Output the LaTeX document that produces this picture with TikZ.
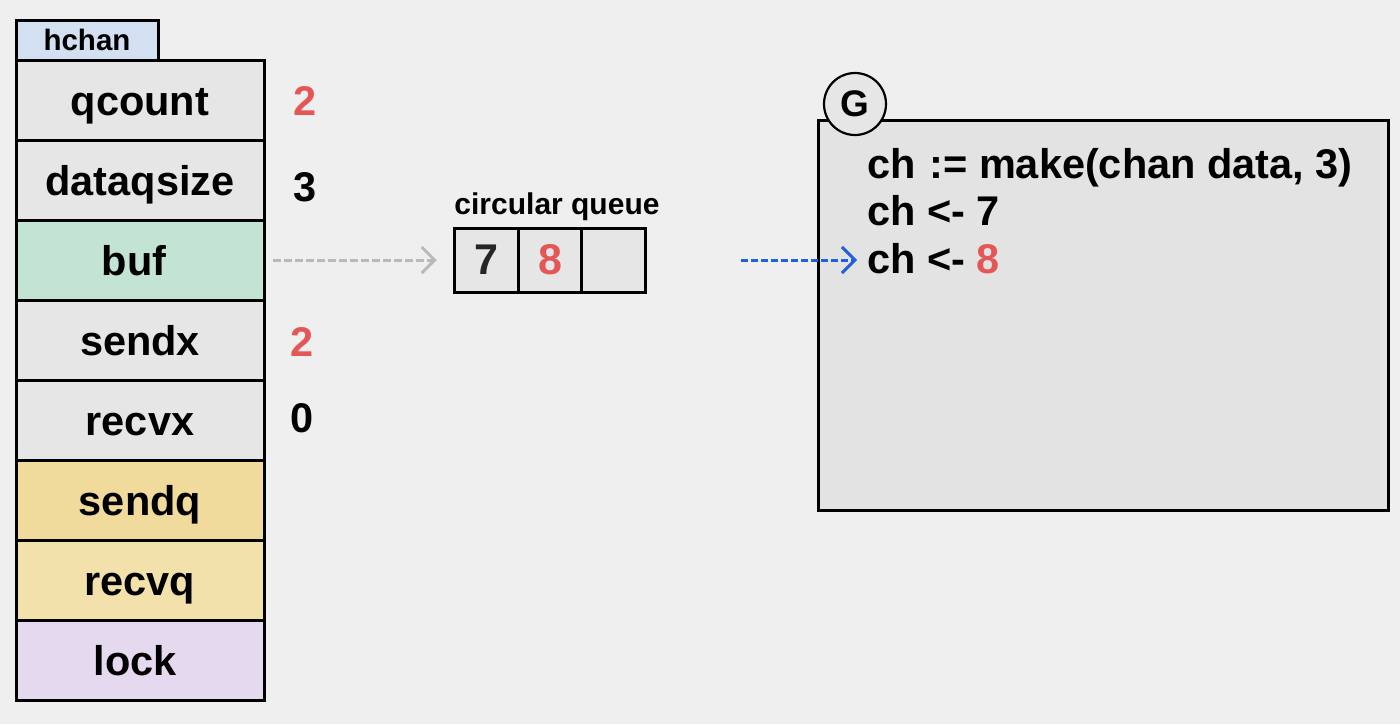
\documentclass[tikz,border=0pt]{standalone}
\usepackage{fontspec}
\setmainfont{Liberation Sans}
\usetikzlibrary{arrows.meta}
\definecolor{bg}{HTML}{EFEFEF}
\definecolor{cellgray}{HTML}{E6E6E6}
\definecolor{tabblue}{HTML}{D3E0F1}
\definecolor{bufgreen}{HTML}{C3E4D3}
\definecolor{qyellow}{HTML}{F0DA9C}
\definecolor{ryellow}{HTML}{F2E1AB}
\definecolor{lockpurple}{HTML}{E4D9EE}
\definecolor{valred}{HTML}{E45756}
\definecolor{arrgray}{HTML}{B9B9B9}
\definecolor{arrblue}{HTML}{1F5FE0}
\definecolor{gbox}{HTML}{E3E3E3}
\tikzset{
  field/.style={draw=black, line width=3pt, minimum width=248pt, minimum height=80pt, inner sep=0pt, outer sep=0pt, text height=30pt, text depth=0pt, font=\fontsize{41.5}{48}\selectfont\bfseries, text=black},
  val/.style={font=\fontsize{41.5}{48}\selectfont\bfseries, inner sep=0pt},
  qcell/.style={draw=black, line width=3pt, minimum width=63.5pt, minimum height=64pt, inner sep=0pt, outer sep=0pt, fill=cellgray, font=\fontsize{43}{50}\selectfont\bfseries},
  codeline/.style={anchor=base west, inner sep=0pt, font=\fontsize{41.5}{48}\selectfont\bfseries},
  barb/.style={-{Straight Barb[length=13pt,width=26pt,line width=3pt]}}
}
\begin{document}
\begin{tikzpicture}[x=1pt,y=-1pt]
\fill[bg] (0,0) rectangle (1400,724);
\useasboundingbox (0,0) rectangle (1400,724);
% tab
\node[draw=black, line width=3pt, fill=tabblue, minimum width=142pt, minimum height=40pt, inner sep=0pt, outer sep=0pt, font=\fontsize{29.5}{34}\selectfont\bfseries] (tab) at (87,40) {hchan};
% fields
\node[field, fill=cellgray] (qcount) at (140,100) {qcount};
\node[field, fill=cellgray] (dataqsize) at (140,180) {dataqsize};
\node[field, fill=bufgreen] (buf) at (140,260) {buf\hspace*{12pt}};
\node[field, fill=cellgray] (sendx) at (140,340) {sendx};
\node[field, fill=cellgray] (recvx) at (140,420) {recvx};
\node[field, fill=qyellow] (sendq) at (140,500) {sendq};
\node[field, fill=ryellow] (recvq) at (140,580) {recvq};
\node[field, fill=lockpurple] (lock) at (140,660) {lock\hspace*{10pt}};
% values
\node[val, text=valred] (v1) at (305,101) {2};
\node[val] (v2) at (305,187) {3};
\node[val, text=valred] (v3) at (302,342) {2};
\node[val] (v4) at (302,418) {0};
% circular queue
\node[font=\fontsize{30}{34}\selectfont\bfseries, inner sep=0pt] (cqlabel) at (557,207) {circular queue};
\node[qcell, text=black!85] (c1) at (486.5,260) {7};
\node[qcell, text=valred] (c2) at (550,260) {8};
\node[qcell] (c3) at (613.5,260) {};
\coordinate (bufout) at (273,260);
\draw[arrgray, line width=3pt, dash pattern=on 8pt off 3pt, barb] (bufout) -- ([xshift=-18pt]c1.west);
% goroutine box
\node[draw=black, line width=3pt, fill=gbox, minimum width=570pt, minimum height=390pt, inner sep=0pt, outer sep=0pt] (gbox) at (1103,315) {};
\node[circle, draw=black, line width=2.2pt, fill=cellgray, minimum size=62pt, inner sep=0pt, font=\fontsize{37}{40}\selectfont\bfseries] (G) at (855,104) {G};
\node[codeline] (l1) at (867,178) {ch\,\,:= make(chan data, 3)};
\node[codeline] (l2) at (867,225) {ch <- 7};
\node[codeline] (l3) at (867,273) {ch <- \textcolor{valred}{8}};
\coordinate (bstart) at (741,260);
\draw[arrblue, line width=3pt, dash pattern=on 7pt off 3pt, barb] (bstart) -- (857,260);
\end{tikzpicture}
\end{document}
